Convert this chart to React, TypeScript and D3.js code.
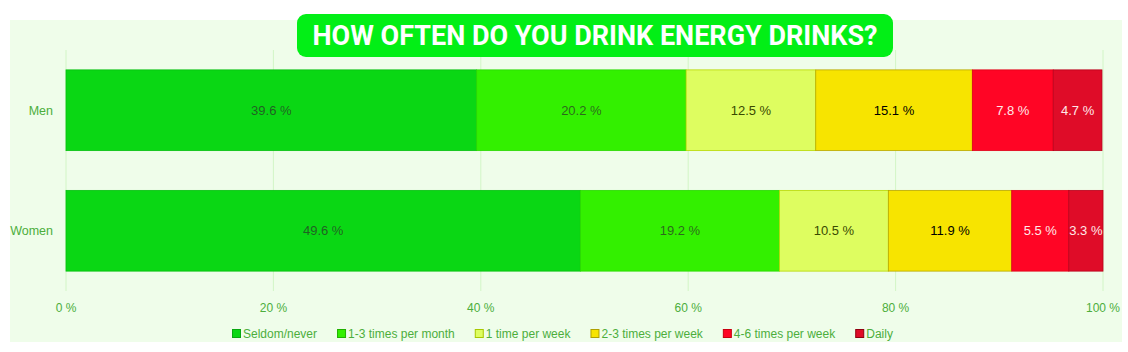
import React, { useRef, useEffect } from "react";
import * as d3 from "d3";

const groups = ["Men", "Women"];
const answers = [
  "Seldom/never",
  "1-3 times per month",
  "1 time per week",
  "2-3 times per week",
  "4-6 times per week",
  "Daily",
];
const menValues = [39.6, 20.2, 12.5, 15.1, 7.8, 4.7];
const womenValues = [49.6, 19.2, 10.5, 11.9, 5.5, 3.3];
const xTicks = [0, 20, 40, 60, 80, 100];

const fills = ["#0ad714", "#33f000", "#defd60", "#f7e400", "#ff0525", "#df0c28"];
const strokes = ["#06c010", "#2ad800", "#b8d800", "#b8a800", "#e00018", "#b8001c"];
const labelColors = ["#2a2a2a", "#2a2a2a", "#3a4a00", "#000000", "#ffe8e8", "#ffe8e8"];
const legendStrokes = ["#08a810", "#20b000", "#a8c800", "#b0a000", "#c80010", "#900010"];

const W = 1128;
const H = 352;
const textGreen = "#4cae3c";
const font = "Liberation Sans, Arial, sans-serif";

function App() {
  const svgRef = useRef<SVGSVGElement>(null);

  useEffect(() => {
    const svg = d3.select(svgRef.current);
    svg.selectAll("*").remove();

    const rows = groups.map((g, i) => {
      const vals = i === 0 ? menValues : womenValues;
      let acc = 0;
      return {
        group: g,
        segs: vals.map((v, k) => {
          const s = { k, v, x0: acc, x1: acc + v };
          acc += v;
          return s;
        }),
      };
    });

    const x = d3.scaleLinear().domain([0, 100]).range([66, 1103]);
    const y = d3
      .scaleBand()
      .domain(groups)
      .range([50, 291])
      .paddingInner(0.33)
      .paddingOuter(0.165);

    svg
      .append("rect")
      .attr("x", 10)
      .attr("y", 20)
      .attr("width", 1112)
      .attr("height", 322)
      .attr("fill", "#effdea");

    // grid
    svg
      .append("g")
      .selectAll("line")
      .data(xTicks)
      .join("line")
      .attr("x1", (d) => x(d))
      .attr("x2", (d) => x(d))
      .attr("y1", 50)
      .attr("y2", 291)
      .attr("stroke", "#d2f5c6")
      .attr("stroke-width", 1);

    const rowG = svg
      .append("g")
      .selectAll("g")
      .data(rows)
      .join("g")
      .attr("transform", (d) => `translate(0,${y(d.group)})`);

    rowG
      .selectAll("rect")
      .data((d) => d.segs)
      .join("rect")
      .attr("x", (d) => x(d.x0))
      .attr("width", (d) => x(d.x1) - x(d.x0))
      .attr("height", y.bandwidth())
      .attr("fill", (d) => fills[d.k])
      .attr("stroke", (d) => strokes[d.k])
      .attr("stroke-width", 0.8);

    rowG
      .selectAll("text")
      .data((d) => d.segs)
      .join("text")
      .attr("x", (d) => (x(d.x0) + x(d.x1)) / 2)
      .attr("y", y.bandwidth() / 2)
      .attr("dy", "0.35em")
      .attr("text-anchor", "middle")
      .attr("font-family", font)
      .attr("font-size", 13)
      .attr("fill", (d) => labelColors[d.k])
      .attr("fill-opacity", (d) => (d.k < 2 ? 0.7 : 1))
      .text((d) => `${d.v.toFixed(1)} %`);

    // y labels
    svg
      .append("g")
      .selectAll("text")
      .data(groups)
      .join("text")
      .attr("x", 53)
      .attr("y", (d) => (y(d) as number) + y.bandwidth() / 2)
      .attr("dy", "0.35em")
      .attr("text-anchor", "end")
      .attr("font-family", font)
      .attr("font-size", 12.5)
      .attr("fill", textGreen)
      .text((d) => d);

    // x axis labels
    svg
      .append("g")
      .selectAll("text")
      .data(xTicks)
      .join("text")
      .attr("x", (d) => x(d))
      .attr("y", 312)
      .attr("text-anchor", "middle")
      .attr("font-family", font)
      .attr("font-size", 12)
      .attr("fill", textGreen)
      .text((d) => `${d} %`);

    // legend
    const legend = svg.append("g");
    let lx = 232;
    answers.forEach((a, k) => {
      const item = legend.append("g").attr("transform", `translate(${lx},0)`);
      item
        .append("rect")
        .attr("x", 0.5)
        .attr("y", 329.5)
        .attr("width", 8)
        .attr("height", 8)
        .attr("fill", fills[k])
        .attr("stroke", legendStrokes[k])
        .attr("stroke-width", 1);
      const t = item
        .append("text")
        .attr("x", 11)
        .attr("y", 337.5)
        .attr("font-family", font)
        .attr("font-size", 12)
        .attr("fill", textGreen)
        .text(a);
      const w = (t.node() as SVGTextElement).getComputedTextLength();
      lx += 11 + w + 20;
    });

    // title
    svg
      .append("rect")
      .attr("x", 297)
      .attr("y", 14)
      .attr("width", 596)
      .attr("height", 43)
      .attr("rx", 9)
      .attr("fill", "#02ef16");
    svg
      .append("text")
      .attr("x", 595)
      .attr("y", 45)
      .attr("text-anchor", "middle")
      .attr("font-family", "Roboto, Arial, sans-serif")
      .attr("font-weight", 700)
      .attr("font-size", 27)
      .attr("fill", "#ffffff")
      .text("HOW OFTEN DO YOU DRINK ENERGY DRINKS?");
  }, []);

  return (
    <svg
      ref={svgRef}
      width={W}
      height={H}
      style={{ position: "absolute", left: 0, top: 0, background: "#ffffff" }}
    />
  );
}

export default App;
